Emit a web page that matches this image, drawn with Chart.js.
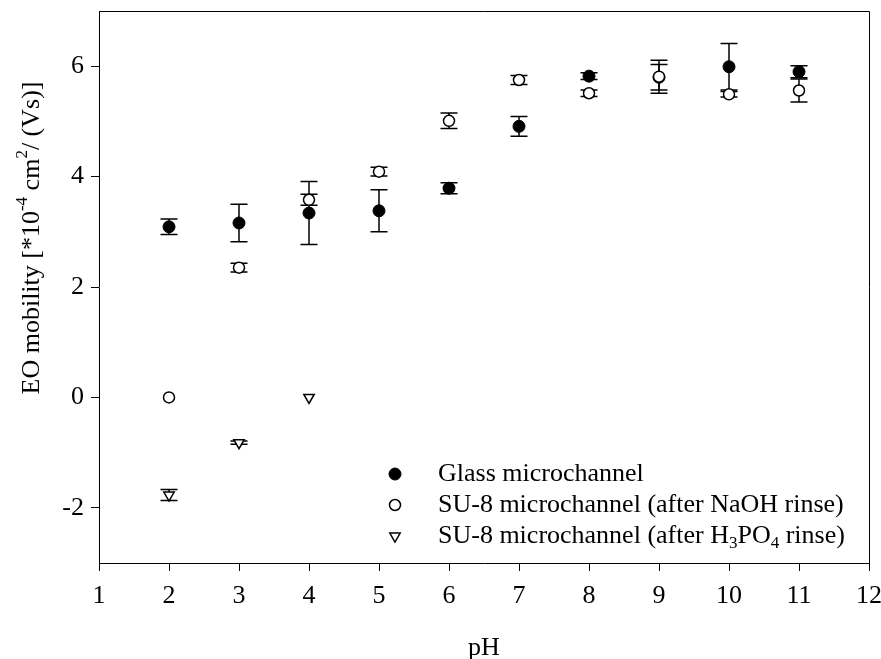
<!DOCTYPE html>
<html>
<head>
<meta charset="utf-8">
<script src="https://cdn.jsdelivr.net/npm/chart.js@4/dist/chart.umd.min.js"></script>
<style>
  body { margin: 0; background: #fff; }
  canvas { display: block; }
</style>
</head>
<body>
<canvas id="eoChart" width="881" height="659"></canvas>
<script>
// values (EO mobility, *10^-4 cm2/(Vs))
let pH = [2, 3, 4, 5, 6, 7, 8, 9, 10, 11];
let glass = [3.09, 3.16, 3.34, 3.38, 3.79, 4.91, 5.82, 5.80, 5.99, 5.90];
let glassErr = [0.14, 0.34, 0.57, 0.38, 0.10, 0.18, 0.06, 0.23, 0.42, 0.11];
let naoh = [0.0, 2.35, 3.58, 4.09, 5.01, 5.75, 5.51, 5.81, 5.49, 5.56];
let naohErr = [0, 0.08, 0.10, 0.08, 0.14, 0.08, 0.06, 0.30, 0.05, 0.21];
let acidPH = [2, 3, 4];
let acid = [-1.77, -0.82, 0.0];
let acidErr = [0.10, 0.03, 0];
let yTicks = [-2, 0, 2, 4, 6];

const FONT = "'Liberation Serif', 'Times New Roman', serif";
const FSIZE = 26;

function toPoints(xs, ys, errs) {
    return xs.map((x, i) => ({ x: x, y: ys[i], err: errs[i] }));
}

// draws text made of pieces, some raised or lowered
function drawRich(ctx, parts, x, y, align) {
    let total = 0;
    parts.forEach(p => {
        ctx.font = (p.sup || p.sub ? Math.round(FSIZE * 0.65) : FSIZE) + "px " + FONT;
        p.w = ctx.measureText(p.t).width;
        total += p.w;
    });
    let cx = align === "center" ? x - total / 2 : x;
    ctx.textBaseline = "middle";
    ctx.textAlign = "left";
    parts.forEach(p => {
        ctx.font = (p.sup || p.sub ? Math.round(FSIZE * 0.65) : FSIZE) + "px " + FONT;
        let dy = p.sup ? -FSIZE * 0.38 : (p.sub ? FSIZE * 0.3 : 0);
        ctx.fillText(p.t, cx, y + dy);
        cx += p.w;
    });
}

const errorBars = {
    id: "errorBars",
    beforeDatasetsDraw(chart) {
        let ctx = chart.ctx;
        let xs = chart.scales.x, ys = chart.scales.y;
        ctx.save();
        ctx.strokeStyle = "#000";
        ctx.lineWidth = 1.5;
        chart.data.datasets.forEach(ds => {
            ds.data.forEach(p => {
                if (!p.err) return;
                let px = xs.getPixelForValue(p.x);
                let top = ys.getPixelForValue(p.y + p.err);
                let bot = ys.getPixelForValue(p.y - p.err);
                ctx.beginPath();
                ctx.moveTo(px, top); ctx.lineTo(px, bot);
                ctx.moveTo(px - 8.5, top); ctx.lineTo(px + 8.5, top);
                ctx.moveTo(px - 8.5, bot); ctx.lineTo(px + 8.5, bot);
                ctx.stroke();
            });
        });
        ctx.restore();
    }
};

const extras = {
    id: "extras",
    afterDraw(chart) {
        let ctx = chart.ctx;
        let a = chart.chartArea;
        ctx.save();
        // frame on top and right
        ctx.strokeStyle = "#000";
        ctx.lineWidth = 1;
        ctx.beginPath();
        ctx.moveTo(a.left, a.top + 0.5); ctx.lineTo(a.right + 0.5, a.top + 0.5);
        ctx.lineTo(a.right + 0.5, a.bottom);
        ctx.stroke();

        ctx.fillStyle = "#000";
        // axis titles
        drawRich(ctx, [{ t: "pH" }], (a.left + a.right) / 2, 648, "center");
        ctx.save();
        ctx.translate(32, 238);
        ctx.rotate(-Math.PI / 2);
        drawRich(ctx, [
            { t: "EO mobility [*10" }, { t: "-4", sup: true },
            { t: " cm" }, { t: "2", sup: true }, { t: "/ (Vs)]" }
        ], 0, 0, "center");
        ctx.restore();

        // legend
        let rows = [
            { ds: 0, parts: [{ t: "Glass microchannel" }] },
            { ds: 1, parts: [{ t: "SU-8 microchannel (after NaOH rinse)" }] },
            { ds: 2, parts: [{ t: "SU-8 microchannel (after H" }, { t: "3", sub: true },
                             { t: "PO" }, { t: "4", sub: true }, { t: " rinse)" }] }
        ];
        rows.forEach((r, i) => {
            let y = 474 + i * 31;
            let ds = chart.data.datasets[r.ds];
            ctx.fillStyle = ds.pointBackgroundColor;
            ctx.strokeStyle = "#000";
            ctx.lineWidth = ds.pointBorderWidth;
            Chart.helpers.drawPoint(ctx, {
                pointStyle: ds.pointStyle,
                rotation: ds.pointRotation || 0,
                radius: ds.pointRadius,
                borderWidth: ds.pointBorderWidth
            }, 395, y);
            ctx.fillStyle = "#000";
            drawRich(ctx, r.parts, 438, y, "left");
        });
        ctx.restore();
    }
};

let ctx = document.getElementById("eoChart").getContext("2d");

new Chart(ctx, {
    type: "scatter",
    data: {
        datasets: [{
            label: "Glass microchannel",
            data: toPoints(pH, glass, glassErr),
            order: 3,
            pointStyle: "circle",
            pointRadius: 6,
            pointBackgroundColor: "#000",
            pointBorderColor: "#000",
            pointBorderWidth: 1
        }, {
            label: "SU-8 microchannel (after NaOH rinse)",
            data: toPoints(pH, naoh, naohErr),
            order: 2,
            pointStyle: "circle",
            pointRadius: 5.5,
            pointBackgroundColor: "#fff",
            pointBorderColor: "#000",
            pointBorderWidth: 1.5
        }, {
            label: "SU-8 microchannel (after H3PO4 rinse)",
            data: toPoints(acidPH, acid, acidErr),
            order: 1,
            pointStyle: "triangle",
            pointRotation: 180,
            pointRadius: 6,
            pointBackgroundColor: "#fff",
            pointBorderColor: "#000",
            pointBorderWidth: 1.5
        }]
    },
    options: {
        responsive: false,
        animation: false,
        layout: { padding: { left: 0, right: 12, top: 11, bottom: 0 } },
        plugins: {
            legend: { display: false },
            tooltip: { enabled: false }
        },
        scales: {
            x: {
                type: "linear",
                min: 1,
                max: 12,
                ticks: { stepSize: 1, color: "#000", padding: 10, font: { family: FONT, size: FSIZE } },
                grid: { drawOnChartArea: false, tickLength: 8, color: "#000" },
                border: { color: "#000" },
                afterFit: s => {
                    s.height = 96;
                    s.paddingLeft = 0;
                    s.paddingRight = 0;
                }
            },
            y: {
                min: -3,
                max: 7,
                afterBuildTicks: s => { s.ticks = yTicks.map(v => ({ value: v })); },
                ticks: { color: "#000", padding: 7, font: { family: FONT, size: FSIZE } },
                grid: { drawOnChartArea: false, tickLength: 8, color: "#000" },
                border: { color: "#000" },
                afterFit: s => {
                    s.width = 99;
                    s.paddingTop = 0;
                    s.paddingBottom = 0;
                }
            }
        }
    },
    plugins: [errorBars, extras]
});
</script>
</body>
</html>
